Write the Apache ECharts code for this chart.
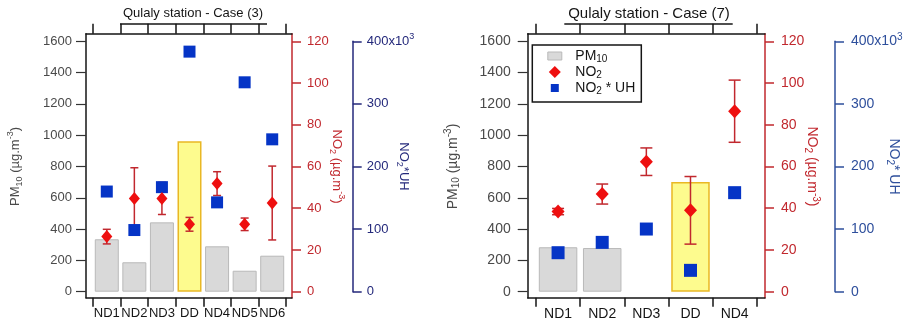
<!DOCTYPE html>
<html><head><meta charset="utf-8">
<script src="https://cdn.jsdelivr.net/npm/echarts@6/dist/echarts.min.js"></script>
<style>html,body{margin:0;padding:0;background:#fff}#c{width:911px;height:324px}</style>
</head><body><div id="c"></div>
<script>
// ---------- data ----------
const case3Title = 'Qulaly station - Case (3)';
const case3Categories = ['ND1', 'ND2', 'ND3', 'DD', 'ND4', 'ND5', 'ND6'];
const case3PM10 = [335, 188, 443, 962, 290, 134, 230];
const case3NO2 = [26.4, 44.7, 44.7, 32.3, 51.8, 32.3, 42.5];
const case3NO2Err = [3.5, 14.7, 7.7, 3.3, 5.7, 3.0, 17.7];
const case3NO2UH = [160, 98.5, 167, 383.5, 142.7, 334.5, 243.4]; // x10^3

const case7Title = 'Qulaly station - Case (7)';
const case7Categories = ['ND1', 'ND2', 'ND3', 'DD', 'ND4'];
const case7PM10 = [284, 279, null, 701, null];
const case7NO2 = [38.4, 46.8, 62.3, 39.0, 86.5];
const case7NO2Err = [1.5, 4.8, 6.6, 16.2, 14.9];
const case7NO2UH = [62.3, 78.8, 100.1, 34.1, 158.2]; // x10^3

const pmTicks = {min: 0, max: 1600, interval: 200};
const no2Ticks = {min: 0, max: 120, interval: 20};
const uhTicks = {min: 0, max: 400, interval: 100};
const legendNames = ['PM10', 'NO2', 'NO2 * UH'];

// ---------- styles ----------
const FONT = 'Liberation Sans, Arial, Helvetica, sans-serif';
const BLACK = '#151515';
const GRAY_TXT = '#4a4a4a';
const RED_AXIS = '#c1282e';
const RED_MARK = '#ee0f0f';
const BLUE_MARK = '#0534c6';
const GRAY_BAR = {color: '#d9d9d9', borderColor: '#b9b9b9', borderWidth: 1};
const YELLOW_BAR = {color: '#fdfb8e', borderColor: '#e9b824', borderWidth: 1.5};

const option = {
  animation: false,
  backgroundColor: '#fff',
  grid: [], xAxis: [], yAxis: [], series: [], graphic: [],
  legend: null
};

const plain = v => String(v);

function frameAxis(extra, color) {
  return Object.assign({type: 'value', min: 0, max: 1,
    axisLine: {show: true, onZero: false, lineStyle: {color: color, width: 1.5}},
    axisTick: {show: false}, axisLabel: {show: false}, splitLine: {show: false}}, extra);
}

function richName(color, fs) {
  return {color: color, fontFamily: FONT, rich: {
    a: {fontSize: fs, lineHeight: 18, color: color, fontFamily: FONT},
    s: {fontSize: fs - 4, lineHeight: 8, verticalAlign: 'bottom', color: color, fontFamily: FONT},
    p: {fontSize: fs - 4, lineHeight: 8, verticalAlign: 'top', color: color, fontFamily: FONT}}};
}

function addPanel(P) {
  const gFrame = option.grid.length;
  option.grid.push({left: P.frame[0], top: P.frame[1], width: P.frame[2], height: P.frame[3],
    show: false, outerBoundsMode: 'none', containLabel: false});
  const gData = option.grid.length;
  option.grid.push({left: P.data[0], top: P.data[1], width: P.data[2], height: P.data[3],
    show: false, outerBoundsMode: 'none', containLabel: false});

  // frame: black box, red right side
  option.xAxis.push(frameAxis({gridIndex: gFrame, position: 'bottom'}, BLACK));
  option.xAxis.push(frameAxis({gridIndex: gFrame, position: 'top'}, BLACK));
  option.yAxis.push(frameAxis({gridIndex: gFrame, position: 'left'}, BLACK));
  option.yAxis.push(frameAxis({gridIndex: gFrame, position: 'right'}, RED_AXIS));

  const xBottom = option.xAxis.length;
  option.xAxis.push({gridIndex: gData, type: 'category', data: P.cats, position: 'bottom',
    offset: P.frame[1] + P.frame[3] - (P.data[1] + P.data[3]),
    axisLine: {show: false, onZero: false},
    axisTick: {show: true, inside: false, length: 9, interval: 0, lineStyle: {color: BLACK, width: 1.5}},
    axisLabel: {show: true, interval: 0, margin: P.xLabelMargin, color: BLACK, fontSize: P.fs, fontFamily: FONT},
    splitLine: {show: false}});
  option.xAxis.push({gridIndex: gData, type: 'category', data: P.cats, position: 'top',
    offset: P.data[1] - P.frame[1],
    axisLine: {show: false, onZero: false},
    axisTick: {show: true, inside: false, length: 10, interval: 0, lineStyle: {color: BLACK, width: 1.5}},
    axisLabel: {show: false}, splitLine: {show: false}});

  const yPM = option.yAxis.length;
  option.yAxis.push({gridIndex: gData, type: 'value', position: 'left', ...pmTicks,
    offset: P.data[0] - P.frame[0],
    axisLine: {show: false, onZero: false},
    axisTick: {show: true, inside: false, length: 10, lineStyle: {color: '#333', width: 1.2}},
    axisLabel: {margin: P.pmMargin, color: GRAY_TXT, fontSize: P.fs, fontFamily: FONT, formatter: plain},
    splitLine: {show: false},
    name: '{a|PM}{s|10}{a| (µg.m}{p|-3}{a|)}', nameLocation: 'middle', nameGap: P.pmGap, nameRotate: 90,
    nameMoveOverlap: false, nameTextStyle: richName(GRAY_TXT, P.fs)});

  const yRed = option.yAxis.length;
  const rightX = P.frame[0] + P.frame[2];
  option.yAxis.push({gridIndex: gData, type: 'value', position: 'right', ...no2Ticks,
    offset: rightX - (P.data[0] + P.data[2]),
    axisLine: {show: false, onZero: false},
    axisTick: {show: true, inside: false, length: 9, lineStyle: {color: RED_AXIS, width: 1.5}},
    axisLabel: {margin: P.redMargin, color: RED_AXIS, fontSize: P.fs, fontFamily: FONT, formatter: plain},
    splitLine: {show: false},
    name: '{a|NO}{s|2}{a| (µg.m}{p|-3}{a|)}', nameLocation: 'middle', nameGap: P.redGap, nameRotate: -90,
    nameMoveOverlap: false, nameTextStyle: richName(RED_AXIS, P.fs)});

  const yBlue = option.yAxis.length;
  option.yAxis.push({gridIndex: gData, type: 'value', position: 'right', ...uhTicks,
    offset: P.blueX - (P.data[0] + P.data[2]),
    axisLine: {show: true, onZero: false, lineStyle: {color: P.navy, width: 1.5}},
    axisTick: {show: true, inside: false, length: 9, lineStyle: {color: P.navy, width: 1.5}},
    axisLabel: {margin: P.blueMargin, color: P.navy, fontSize: P.fs, fontFamily: FONT,
      formatter: v => v === uhTicks.max ? '{a|' + v + 'x10}{p|3}' : '{a|' + v + '}',
      rich: {a: {fontSize: P.fs, lineHeight: 18, color: P.navy, fontFamily: FONT},
             p: {fontSize: P.fs - 4, lineHeight: 8, verticalAlign: 'top', color: P.navy, fontFamily: FONT}}},
    splitLine: {show: false},
    name: P.blueName, nameLocation: 'middle', nameGap: P.blueGap, nameRotate: -90,
    nameMoveOverlap: false, nameTextStyle: richName(P.navy, P.fs)});

  option.series.push({type: 'bar', name: 'PM10', xAxisIndex: xBottom, yAxisIndex: yPM, barWidth: P.barW, z: 1,
    itemStyle: GRAY_BAR,
    data: P.pm.map((v, i) => v == null ? '-' : {value: v, itemStyle: P.cats[i] === 'DD' ? YELLOW_BAR : GRAY_BAR})});
  option.series.push({type: 'custom', name: 'NO2 err', xAxisIndex: xBottom, yAxisIndex: yRed, z: 2,
    encode: {x: 0, y: [1, 2]},
    data: P.no2.map((v, i) => [i, v - P.err[i], v + P.err[i]]),
    renderItem: (params, api) => {
      const hi = api.coord([api.value(0), api.value(2)]);
      const lo = api.coord([api.value(0), api.value(1)]);
      const cx = hi[0], hw = P.cap / 2;
      const st = {stroke: RED_AXIS, lineWidth: 1.5, fill: null};
      return {type: 'group', children: [
        {type: 'line', shape: {x1: cx, y1: hi[1], x2: cx, y2: lo[1]}, style: st},
        {type: 'line', shape: {x1: cx - hw, y1: hi[1], x2: cx + hw, y2: hi[1]}, style: st},
        {type: 'line', shape: {x1: cx - hw, y1: lo[1], x2: cx + hw, y2: lo[1]}, style: st}]};
    }});
  option.series.push({type: 'scatter', name: 'NO2 * UH', xAxisIndex: xBottom, yAxisIndex: yBlue, z: 3,
    symbol: 'rect', symbolSize: P.sq, itemStyle: {color: BLUE_MARK, opacity: 1}, data: P.uh});
  option.series.push({type: 'scatter', name: 'NO2', xAxisIndex: xBottom, yAxisIndex: yRed, z: 4,
    symbol: 'diamond', symbolSize: P.dia, itemStyle: {color: RED_MARK, opacity: 1}, data: P.no2});

  option.graphic.push({type: 'text', x: P.titleX, y: 13.5, silent: true,
    style: {text: P.title, font: P.titleFs + 'px ' + FONT, fill: BLACK, align: 'center', verticalAlign: 'middle',
      textAlign: 'center', textVerticalAlign: 'middle'}});
  option.graphic.push({type: 'line', silent: true, shape: {x1: P.underline[0], y1: 24, x2: P.underline[1], y2: 24},
    style: {stroke: BLACK, lineWidth: 1.5}});
}

addPanel({title: case3Title, cats: case3Categories, pm: case3PM10, no2: case3NO2, err: case3NO2Err, uh: case3NO2UH,
  frame: [86, 33.7, 206, 264], data: [93, 41.3, 193, 250.4], blueX: 352.7, navy: '#24297b',
  fs: 13, xLabelMargin: 9, pmMargin: 14, redMargin: 15, blueMargin: 14,
  pmGap: 62, redGap: 36, blueGap: 42, blueName: '{a|NO}{s|2}{a|*UH}',
  barW: 24, cap: 8, sq: 12, dia: [11, 13], titleX: 193, titleFs: 13, underline: [120, 267]});

addPanel({title: case7Title, cats: case7Categories, pm: case7PM10, no2: case7NO2, err: case7NO2Err, uh: case7NO2UH,
  frame: [527.7, 33.7, 237.3, 264], data: [536, 41.3, 220.7, 250.4], blueX: 835, navy: '#2e4f9c',
  fs: 14, xLabelMargin: 9, pmMargin: 17, redMargin: 16, blueMargin: 16,
  pmGap: 66, redGap: 38, blueGap: 50, blueName: '{a|NO}{s|2}{a|* UH}',
  barW: 38.5, cap: 12, sq: 13, dia: [13, 14], titleX: 649, titleFs: 15, underline: [564.3, 732.7]});

option.legend = {
  show: true, orient: 'vertical', left: 532.3, top: 45,
  padding: [4, 6, 6, 6.5], itemGap: 1, itemWidth: 31, itemHeight: 12, symbolKeepAspect: true,
  borderColor: BLACK, borderWidth: 1.5, backgroundColor: '#fff', selectedMode: false,
  data: [
    {name: legendNames[0], icon: 'path://M0,0M31,12M8.5,2h14v8h-14z', itemStyle: {color: '#d9d9d9', borderColor: '#b9b9b9', borderWidth: 1}},
    {name: legendNames[1], icon: 'path://M0,0M31,12M15.5,0L21.5,6L15.5,12L9.5,6z', itemStyle: {color: RED_MARK}},
    {name: legendNames[2], icon: 'path://M0,0M31,12M11.5,2h8v8h-8z', itemStyle: {color: BLUE_MARK}}
  ],
  formatter: n => n === 'PM10' ? '{a|PM}{s|10}' : n === 'NO2' ? '{a|NO}{s|2}' : '{a|NO}{s|2}{a| * UH}',
  textStyle: {color: BLACK, fontFamily: FONT, fontSize: 14, rich: {
    a: {fontSize: 14, lineHeight: 16, color: BLACK, fontFamily: FONT},
    s: {fontSize: 10, lineHeight: 8, verticalAlign: 'bottom', color: BLACK, fontFamily: FONT}}}
};

const chart = echarts.init(document.getElementById('c'), null, {renderer: 'canvas'});
chart.setOption(option);
</script></body></html>
